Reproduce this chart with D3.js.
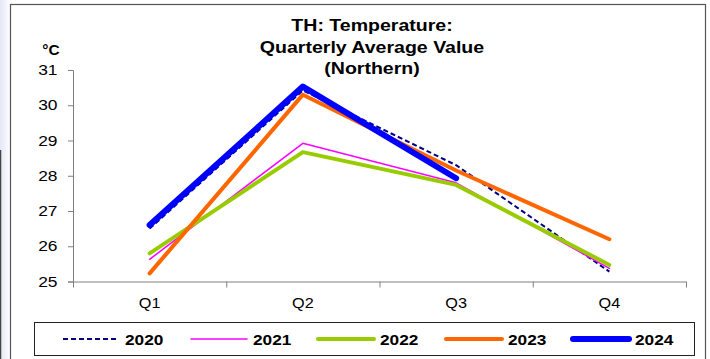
<!DOCTYPE html>
<html>
<head>
<meta charset="utf-8">
<script src="https://cdn.jsdelivr.net/npm/d3@7"></script>
<style>
  html, body { margin: 0; padding: 0; background: #fff; }
  svg { display: block; }
  text { font-family: "Liberation Sans", Arial, sans-serif; fill: #000; }
</style>
</head>
<body>
<svg id="chart" width="710" height="359"></svg>
<script>
const quarters = ["Q1", "Q2", "Q3", "Q4"];
const years = ["2020", "2021", "2022", "2023", "2024"];
const v2020 = [26.5, 30.42, 28.3, 25.28];
const v2021 = [25.63, 28.92, 27.8, 25.37];
const v2022 = [25.8, 28.67, 27.74, 25.47];
const v2023 = [25.23, 30.3, 28.15, 26.2];
const v2024 = [26.6, 30.53, 27.93, null];
const yTicks = [25, 26, 27, 28, 29, 30, 31];
const titleLines = ["TH: Temperature:", "Quarterly Average Value", "(Northern)"];
const unitLabel = "°C";

const seriesValues = [v2020, v2021, v2022, v2023, v2024];
const styles = [
  { color: "#000080", width: 2, dash: "5,3" },
  { color: "#FF00FF", width: 1.5, dash: null },
  { color: "#99CC00", width: 4, dash: null },
  { color: "#FF6600", width: 4, dash: null },
  { color: "#0000FF", width: 6, dash: null }
];

const SX = 1.15;
const svg = d3.select("#chart");

function txt(x, y, s, anchor, size, weight, sx) {
  return svg.append("text")
    .attr("transform", `translate(${x},${y}) scale(${sx || SX},1)`)
    .attr("text-anchor", anchor)
    .attr("font-size", size)
    .attr("font-weight", weight)
    .text(s);
}

// left page strip
const grad = svg.append("defs").append("linearGradient").attr("id", "lg")
  .attr("x1", 0).attr("x2", 1).attr("y1", 0).attr("y2", 0);
grad.append("stop").attr("offset", 0).attr("stop-color", "#e6e6f6");
grad.append("stop").attr("offset", 1).attr("stop-color", "#fafaff");
svg.append("rect").attr("x", 0).attr("y", 0).attr("width", 9).attr("height", 359).attr("fill", "url(#lg)");
svg.append("line").attr("x1", 0.5).attr("x2", 0.5).attr("y1", 150).attr("y2", 359)
  .attr("stroke", "#444").attr("stroke-width", 1.5);

// chart frame
svg.append("rect").attr("x", 10.5).attr("y", 4.5).attr("width", 695).attr("height", 370)
  .attr("fill", "#fff").attr("stroke", "#555").attr("stroke-width", 1.2);

const x = d3.scaleBand().domain(quarters).range([73, 686]).padding(0);
const y = d3.scaleLinear().domain([25, 31]).range([281.5, 70]);
const cx = q => x(q) + x.bandwidth() / 2;

// y axis
const yAxis = svg.append("g").attr("transform", "translate(73,0)")
  .call(d3.axisLeft(y).tickValues(yTicks).tickSize(5).tickFormat(""));
yAxis.select(".domain").attr("stroke", "#808080");
yAxis.selectAll(".tick line").attr("stroke", "#808080");
yTicks.forEach(t => txt(57.5, y(t) + 5, String(t), "end", 14.5, "normal", 1.2));

// x axis with boundary ticks
const xEdges = quarters.map(q => x(q)).concat([x.range()[1]]);
const xb = d3.scaleLinear().domain([0, 4]).range([73, 686]);
const xAxis = svg.append("g").attr("transform", "translate(0,281.5)")
  .call(d3.axisBottom(xb).tickValues([0, 1, 2, 3, 4]).tickSize(6).tickSizeOuter(0).tickFormat(""));
xAxis.select(".domain").attr("stroke", "#808080");
xAxis.selectAll(".tick line").attr("stroke", "#808080");
quarters.forEach(q => txt(cx(q), 307.5, q, "middle", 14.5, "normal", 1.12));

// unit label
txt(51, 55, unitLabel, "middle", 14, "bold", 1.1);

// title
titleLines.forEach((s, i) => txt(372, 31 + i * 21.5, s, "middle", 17, "bold", 1.15));

// series lines
const line = d3.line()
  .defined(d => d.v !== null)
  .x(d => cx(d.q))
  .y(d => y(d.v));
seriesValues.forEach((vals, i) => {
  const st = styles[i];
  svg.append("path")
    .datum(vals.map((v, j) => ({ q: quarters[j], v })))
    .attr("d", line)
    .attr("fill", "none")
    .attr("stroke", st.color)
    .attr("stroke-width", st.width)
    .attr("stroke-dasharray", st.dash)
    .attr("stroke-linejoin", "round")
    .attr("stroke-linecap", st.dash ? "butt" : "round");
});

// legend
svg.append("rect").attr("x", 34.5).attr("y", 322.5).attr("width", 660).attr("height", 33)
  .attr("fill", "#fff").attr("stroke", "#222").attr("stroke-width", 1);
const legX = [63, 191, 318, 446, 573];
years.forEach((yr, i) => {
  const st = styles[i];
  svg.append("line")
    .attr("x1", legX[i]).attr("x2", legX[i] + 56)
    .attr("y1", 339).attr("y2", 339)
    .attr("stroke", st.color)
    .attr("stroke-width", st.width)
    .attr("stroke-dasharray", st.dash)
    .attr("stroke-linecap", st.dash ? "butt" : "round");
  txt(legX[i] + 62, 344.5, yr, "start", 15, "bold", 1.15);
});
</script>
</body>
</html>
